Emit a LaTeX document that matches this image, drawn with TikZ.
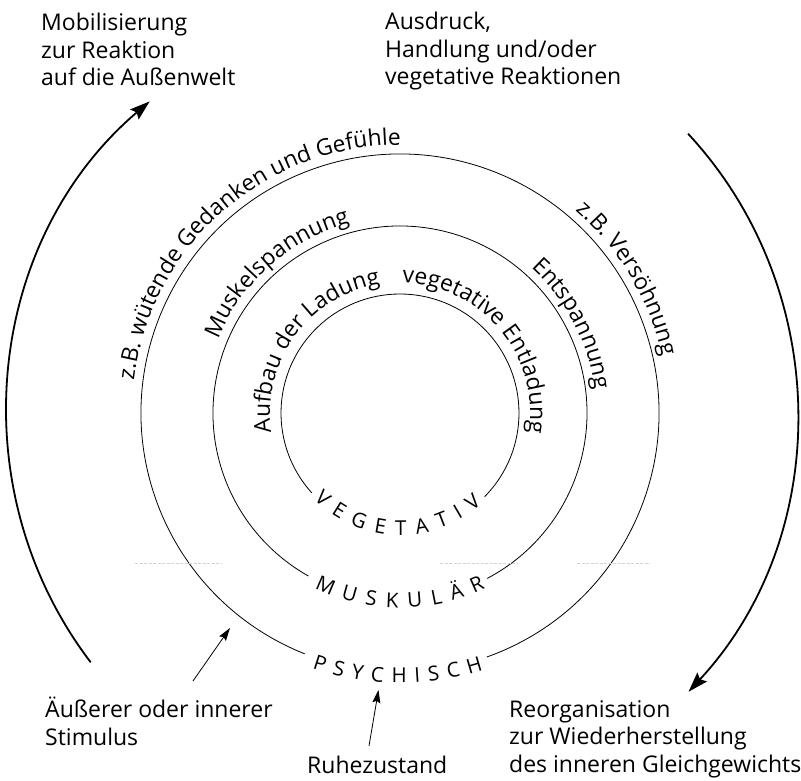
\documentclass[tikz,border=0pt]{standalone}
\usepackage{fontspec}
\setmainfont{Open Sans}
\usepackage{tikz}
\usetikzlibrary{arrows.meta,calc,decorations.text}
\newcommand{\arcfont}{\fontsize{22.8}{22.8}\selectfont}
\newcommand{\capfont}{\fontsize{20.5}{20.5}\selectfont}
\tikzstyle{ring} = [line width=0.8pt]
\tikzstyle{bigarrow} = [line width=1.8pt,-{Stealth[length=20pt,width=13pt,inset=3pt]}]
\tikzstyle{arrow} = [line width=0.8pt,-{Stealth[length=13pt,width=8pt,inset=2pt]}]
\tikzstyle{txt} = [align=left, inner sep=0pt, anchor=north west,%
    font=\fontsize{23}{27.5}\selectfont]
\tikzstyle{scan} = [gray!35, line width=0.6pt, dash pattern=on 3pt off 1.5pt]
\tikzset{arctext/.style={decorate, decoration={text along path, text={|\arcfont|#1}}},
    captext/.style={decorate, decoration={text along path, text align=fit to path,
    text={|\capfont|#1}}}}

\begin{document}
\begin{tikzpicture}[x=1pt,y=1pt]
    \useasboundingbox (0,0) rectangle (801,780);
    \coordinate (c) at (400,367);
    \coordinate (o) at (402,367);
    % rings, open at the bottom
    \draw[ring] ($(c)+(-44.7:119)$) arc[start angle=-44.7, end angle=222.2, radius=119];
    \draw[ring] ($(c)+(-62.2:187)$) arc[start angle=-62.2, end angle=240.7, radius=187];
    \draw[ring] ($(c)+(-70.4:259)$) arc[start angle=-70.4, end angle=248.4, radius=259];
    \path[captext=VEGETATIV] ($(c)+(225:122)$) arc[start angle=225, end angle=312, radius=122];
    \path[captext=MUSKULÄR] ($(c)+(244:195)$) arc[start angle=244, end angle=296, radius=195];
    \path[captext=PSYCHISCH] ($(c)+(251:270)$) arc[start angle=251, end angle=288, radius=270];
    % texts along the rings
    \path[arctext={Aufbau der Ladung}] ($(c)+(188.5:130)$) arc[start angle=188.5, end angle=80, radius=130];
    \path[arctext={vegetative Entladung}] ($(c)+(89:130)$) arc[start angle=89, end angle=-40, radius=130];
    \path[arctext={Muskelspannung}] ($(c)+(158:196)$) arc[start angle=158, end angle=80, radius=196];
    \path[arctext={Entspannung}] ($(c)+(48:196)$) arc[start angle=48, end angle=-20, radius=196];
    \path[arctext={z.B. wütende Gedanken und Gefühle}] ($(c)+(173:268)$) arc[start angle=173, end angle=70, radius=268];
    \path[arctext={z.B. Versöhnung}] ($(c)+(49:268)$) arc[start angle=49, end angle=-10, radius=268];
    % outer cycle
    \coordinate (mobStart) at ($(o)+(218:395 and 405)$);
    \draw[bigarrow] (mobStart) arc[start angle=218, end angle=129.7, x radius=395, y radius=405];
    \coordinate (reoStart) at ($(o)+(43.6:395 and 405)$);
    \draw[bigarrow] (reoStart) arc[start angle=43.6, end angle=-43.5, x radius=395, y radius=405];
    % labels
    \node (mob) [txt] at (41,767) {Mobilisierung\\zur Reaktion\\auf die Außenwelt};
    \node (ausdruck) [txt] at (385,768) {Ausdruck,\\Handlung und/oder\\vegetative Reaktionen};
    \node (stimulus) [txt] at (45,83) {Äußerer oder innerer\\Stimulus};
    \node (ruhe) [txt] at (307,24) {Ruhezustand};
    \node (reorg) [txt] at (509,80) {Reorganisation\\zur Wiederherstellung\\des inneren Gleichgewichts};
    \coordinate (stimTail) at (193,99);
    \coordinate (stimTip) at (230,152);
    \draw[arrow] (stimTail) -- (stimTip);
    \coordinate (ruheTail) at (369,34);
    \coordinate (ruheTip) at (378.5,90);
    \draw[arrow] (ruheTail) -- (ruheTip);
    % scanner streak
    \draw[scan] (135,217) -- (222,217);
    \draw[scan] (440,217) -- (517,217);
    \draw[scan] (577,217) -- (650,217);
\end{tikzpicture}
\end{document}
